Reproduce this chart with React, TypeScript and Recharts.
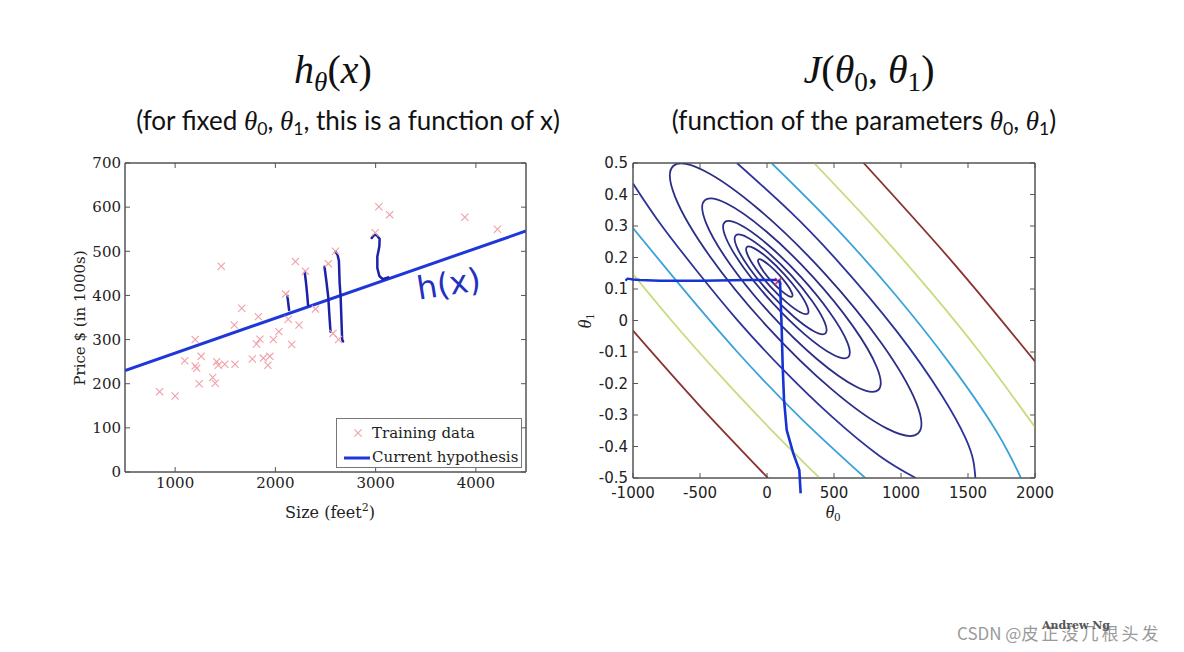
import React from "react";
import { ComposedChart, Scatter, Line, XAxis, YAxis, ReferenceArea } from "recharts";

type P = [number, number];

// ---------- Left chart: housing data ----------
const sizeTicks = [1000, 2000, 3000, 4000];
const priceTicks = [0, 100, 200, 300, 400, 500, 600, 700];

const trainingData: P[] = [
  [845, 182], [1000, 172], [1095, 252], [1200, 300], [1200, 240], [1215, 235], [1240, 200], [1260, 262],
  [1375, 214], [1400, 201], [1415, 250], [1430, 242], [1460, 466], [1495, 244], [1597, 244], [1590, 333],
  [1665, 371], [1770, 256], [1812, 290], [1830, 352], [1846, 301], [1880, 258], [1925, 242], [1945, 262],
  [1980, 300], [2035, 318], [2103, 403], [2128, 346], [2163, 289], [2236, 333], [2200, 477], [2300, 455],
  [2400, 369], [2528, 472], [2600, 500], [2575, 314], [2630, 300], [2995, 542], [3032, 601], [3140, 583],
  [3890, 577], [4215, 550],
];

const hypothesis: P[] = [[500, 230], [4500, 546]];

const stroke1: P[] = [[2120, 399], [2128, 383], [2137, 367]];
const stroke2: P[] = [[2293, 452], [2305, 430], [2316, 405], [2326, 378]];
const stroke3: P[] = [[2490, 465], [2510, 430], [2528, 395], [2540, 350], [2550, 318]];
const stroke4: P[] = [[2601, 499], [2620, 492], [2634, 478], [2641, 428], [2651, 397], [2658, 352], [2666, 300], [2675, 296]];
const stroke5: P[] = [[2961, 530], [2985, 537], [3010, 537], [3040, 528], [3037, 511], [3017, 488], [3017, 462], [3037, 444], [3070, 437], [3125, 441]];
const residualStrokes: P[][] = [stroke1, stroke2, stroke3, stroke4, stroke5];

// ---------- Right chart: cost contours ----------
const theta0Ticks = [-1000, -500, 0, 500, 1000, 1500, 2000];
const theta1Ticks = [0.5, 0.4, 0.3, 0.2, 0.1, 0, -0.1, -0.2, -0.3, -0.4, -0.5];

const ellipse1: P[] = [[193.5, 0.0736], [190.2, 0.0874], [152.5, 0.1138], [90.4, 0.146], [20.7, 0.1752], [-38, 0.1936], [-69.9, 0.1962], [-66.6, 0.1824], [-28.9, 0.156], [33.2, 0.1238], [102.9, 0.0946], [161.6, 0.0762]];
const ellipse2: P[] = [[314.8, 0.0169], [309.7, 0.0421], [242.1, 0.0902], [130.3, 0.1483], [4.1, 0.2008], [-102.5, 0.2337], [-161.2, 0.2381], [-156.1, 0.2129], [-88.5, 0.1648], [23.3, 0.1067], [149.5, 0.0542], [256.1, 0.0213]];
const ellipse3: P[] = [[451.9, -0.0481], [445.2, -0.0107], [346.4, 0.0603], [182, 0.146], [-4, 0.2233], [-161.6, 0.2715], [-248.7, 0.2777], [-242, 0.2403], [-143.2, 0.1693], [21.2, 0.0836], [207.2, 0.0063], [364.8, -0.0419]];
const ellipse4: P[] = [[627.5, -0.1262], [618.3, -0.0746], [482.4, 0.0231], [256, 0.141], [0, 0.2473], [-217.1, 0.3136], [-337.1, 0.322], [-327.9, 0.2704], [-192, 0.1727], [34.4, 0.0548], [290.4, -0.0515], [507.5, -0.1178]];
const ellipse5: P[] = [[860.8, -0.2347], [851.1, -0.1609], [662.3, -0.0225], [344.9, 0.1436], [-15.9, 0.2927], [-323.5, 0.3849], [-495.6, 0.3955], [-485.9, 0.3217], [-297.1, 0.1833], [20.3, 0.0172], [381.1, -0.1319], [688.7, -0.2241]];
const ellipse6: P[] = [[1169.7, -0.3782], [1154.4, -0.2749], [887.1, -0.0802], [439.3, 0.1537], [-68.9, 0.3642], [-501.4, 0.4947], [-742.3, 0.5104], [-727, 0.4071], [-459.7, 0.2124], [-11.9, -0.0215], [496.3, -0.232], [928.8, -0.3625]];

const level7a: P[] = [[-1000, 0.435], [-805.8, 0.313], [-536.7, 0.1644], [-216.3, -0.001], [133.3, -0.1617], [488.5, -0.307], [840, -0.43], [1110, -0.5]];
const level7b: P[] = [[-224.3, 0.5], [175.1, 0.3447], [529.1, 0.1878], [964.1, -0.0322], [1308.4, -0.2404], [1481.6, -0.3734], [1540, -0.446], [1555, -0.5]];
const level8a: P[] = [[-1000, 0.2931], [-675.9, 0.1257], [-219.3, -0.1008], [266.7, -0.316], [733.5, -0.5]];
const level8b: P[] = [[33.4, 0.5], [486, 0.3069], [956.3, 0.0824], [1375.6, -0.1432], [1715.9, -0.3545], [1895, -0.5]];
const level9a: P[] = [[-1000, 0.1474], [-717.7, 0.0025], [-377.4, -0.1618], [18.7, -0.3413], [392.9, -0.5]];
const level9b: P[] = [[351, 0.5], [804.7, 0.2941], [1227.2, 0.0884], [1619.3, -0.1181], [2000, -0.3384]];
const level10a: P[] = [[-1000, -0.0324], [-516, -0.2646], [7.1, -0.5]];
const level10b: P[] = [[721, 0.5], [1399.2, 0.1783], [2000, -0.1302]];

const minimum: P[] = [[83, 0.124]];
const descentH: P[] = [[-1058, 0.127], [-1040, 0.133], [-1000, 0.13], [-948, 0.1286], [-799, 0.126], [-500, 0.126], [-127, 0.1286], [72, 0.1286]];
const descentV: P[] = [[82, 0.128], [97, 0.123], [109, -0.02], [117, -0.147], [127, -0.252], [147, -0.348], [196, -0.422], [241, -0.475], [251, -0.549]];

// ---------- helpers / styles ----------
const toObj = (arr: P[]) => arr.map(([x, y]) => ({ x, y }));
const serif = "'DejaVu Serif', serif";
const sans = "'DejaVu Sans', sans-serif";
const math = "'Liberation Serif', 'DejaVu Serif', serif";

const NAVY = "#2b2d86";
const L7C = "#2e3399";
const LBLUE = "#3ba3da";
const YGREEN = "#c5dd7e";
const DRED = "#8a3232";

const contours: { pts: P[]; color: string; closed: boolean }[] = [
  { pts: ellipse1, color: NAVY, closed: true },
  { pts: ellipse2, color: NAVY, closed: true },
  { pts: ellipse3, color: NAVY, closed: true },
  { pts: ellipse4, color: NAVY, closed: true },
  { pts: ellipse5, color: NAVY, closed: true },
  { pts: ellipse6, color: NAVY, closed: true },
  { pts: level7a, color: L7C, closed: false },
  { pts: level7b, color: L7C, closed: false },
  { pts: level8a, color: LBLUE, closed: false },
  { pts: level8b, color: LBLUE, closed: false },
  { pts: level9a, color: YGREEN, closed: false },
  { pts: level9b, color: YGREEN, closed: false },
  { pts: level10a, color: DRED, closed: false },
  { pts: level10b, color: DRED, closed: false },
];

const PinkCross = (props: any) => {
  const { cx, cy } = props;
  if (cx == null || cy == null) return null;
  const r = 3.6;
  return (
    <path
      d={`M${cx - r},${cy - r}L${cx + r},${cy + r}M${cx - r},${cy + r}L${cx + r},${cy - r}`}
      stroke="#f0a0a8"
      strokeWidth={1.1}
      fill="none"
    />
  );
};

const RedCross = (props: any) => {
  const { cx, cy } = props;
  if (cx == null || cy == null) return null;
  const r = 3.2;
  return (
    <path
      d={`M${cx - r},${cy - r}L${cx + r},${cy + r}M${cx - r},${cy + r}L${cx + r},${cy - r}`}
      stroke="#e0405a"
      strokeWidth={1.8}
      fill="none"
    />
  );
};

const Sub = ({ children, size = "0.68em" }: any) => (
  <span style={{ fontSize: size, position: "relative", top: "0.28em" }}>{children}</span>
);

const axisStroke = "#555";

function LeftChart() {
  return (
    <ComposedChart width={560} height={362} margin={{ top: 12, right: 33, bottom: 0, left: 65 }}>
      <XAxis xAxisId="b" dataKey="x" type="number" domain={[500, 4500]} ticks={sizeTicks} allowDataOverflow
        height={40} tickSize={-5} tickMargin={10} stroke={axisStroke}
        tick={{ fill: "#222", fontSize: 15, fontFamily: serif }} />
      <XAxis xAxisId="t" orientation="top" dataKey="x" type="number" domain={[500, 4500]} ticks={sizeTicks}
        allowDataOverflow height={1} tickSize={-5} tickFormatter={() => ""} stroke={axisStroke} />
      <YAxis yAxisId="l" dataKey="y" type="number" domain={[0, 700]} ticks={priceTicks} allowDataOverflow
        width={60} tickSize={-5} tickMargin={9} stroke={axisStroke}
        tick={{ fill: "#222", fontSize: 15, fontFamily: serif }} />
      <YAxis yAxisId="r" orientation="right" type="number" domain={[0, 700]} ticks={priceTicks}
        allowDataOverflow width={1} tickSize={-5} tickFormatter={() => ""} stroke={axisStroke} />
      <ReferenceArea xAxisId="b" yAxisId="l" x1={500} x2={4500} y1={0} y2={700} fill="none" stroke={axisStroke}
        strokeWidth={1} ifOverflow="visible" />
      <Scatter xAxisId="b" yAxisId="l" data={toObj(trainingData)} dataKey="y" shape={<PinkCross />}
        isAnimationActive={false} legendType="none" />
      <Line xAxisId="b" yAxisId="l" data={toObj(hypothesis)} dataKey="y" type="linear" stroke="#1f37d9"
        strokeWidth={3} dot={false} activeDot={false} isAnimationActive={false} legendType="none" />
      {residualStrokes.map((s, i) => (
        <Line key={"s" + i} xAxisId="b" yAxisId="l" data={toObj(s)} dataKey="y" type="linear" stroke="#1c22a8"
          strokeWidth={2.5} strokeLinecap="round" strokeLinejoin="round" dot={false} activeDot={false}
          isAnimationActive={false} legendType="none" />
      ))}
    </ComposedChart>
  );
}

function RightChart() {
  return (
    <ComposedChart width={500} height={368} margin={{ top: 12, right: 24, bottom: 0, left: 13 }}>
      <XAxis xAxisId="b" dataKey="x" type="number" domain={[-1000, 2000]} ticks={theta0Ticks} allowDataOverflow
        height={40} tickSize={-5} tickMargin={14} stroke={axisStroke}
        tick={{ fill: "#222", fontSize: 15, fontFamily: sans }} />
      <XAxis xAxisId="t" orientation="top" dataKey="x" type="number" domain={[-1000, 2000]} ticks={theta0Ticks}
        allowDataOverflow height={1} tickSize={-5} tickFormatter={() => ""} stroke={axisStroke} />
      <YAxis yAxisId="l" dataKey="y" type="number" domain={[-0.5, 0.5]} ticks={theta1Ticks} allowDataOverflow
        width={60} tickSize={-5} tickMargin={10} stroke={axisStroke}
        tickFormatter={(v: number) => (Math.abs(v) < 1e-9 ? "0" : v.toFixed(1))}
        tick={{ fill: "#222", fontSize: 15, fontFamily: sans }} />
      <YAxis yAxisId="r" orientation="right" type="number" domain={[-0.5, 0.5]} ticks={theta1Ticks}
        allowDataOverflow width={1} tickSize={-5} tickFormatter={() => ""} stroke={axisStroke} />
      <ReferenceArea xAxisId="b" yAxisId="l" x1={-1000} x2={2000} y1={-0.5} y2={0.5} fill="none" stroke={axisStroke}
        strokeWidth={1} ifOverflow="visible" />
      {contours.map((c, i) => (
        <Line key={"c" + i} xAxisId="b" yAxisId="l" data={toObj(c.pts)} dataKey="y"
          type={c.closed ? "basisClosed" : "natural"} stroke={c.color} strokeWidth={1.8}
          dot={false} activeDot={false} isAnimationActive={false} legendType="none" />
      ))}
      <Scatter xAxisId="b" yAxisId="l" data={toObj(minimum)} dataKey="y" shape={<RedCross />}
        isAnimationActive={false} legendType="none" />
    </ComposedChart>
  );
}

// Overlay with the same pixel scale but a wider domain so the hand-drawn path can leave the box
function DescentOverlay() {
  return (
    <ComposedChart width={500} height={360} margin={{ top: 13, right: 25, bottom: 16.25, left: 65 }}>
      <XAxis xAxisId="b" dataKey="x" type="number" domain={[-1060, 2000]} allowDataOverflow hide />
      <YAxis yAxisId="l" dataKey="y" type="number" domain={[-0.55, 0.5]} allowDataOverflow hide />
      <Line xAxisId="b" yAxisId="l" data={toObj(descentH)} dataKey="y" type="linear" stroke="#1733d4"
        strokeWidth={2.4} strokeLinejoin="round" dot={false} activeDot={false} isAnimationActive={false} legendType="none" />
      <Line xAxisId="b" yAxisId="l" data={toObj(descentV)} dataKey="y" type="linear" stroke="#1733d4"
        strokeWidth={2.6} strokeLinejoin="round" dot={false} activeDot={false} isAnimationActive={false} legendType="none" />
    </ComposedChart>
  );
}

export default function App() {
  const abs = (extra: React.CSSProperties): React.CSSProperties => ({ position: "absolute", ...extra });
  const humanist = "Lato, 'Open Sans', sans-serif";
  const thetaStyle: React.CSSProperties = { fontFamily: math, fontStyle: "italic", fontSize: 27 };
  return (
    <div style={{ position: "absolute", left: 0, top: 0, width: 1184, height: 652, background: "#fff", overflow: "hidden" }}>
      {/* Titles */}
      <div style={abs({ left: 183, top: 45, width: 300, textAlign: "center", fontFamily: math, fontSize: 40, lineHeight: "50px", color: "#111" })}>
        <i>h</i><Sub><i>θ</i></Sub>(<i>x</i>)
      </div>
      <div style={abs({ left: 719, top: 45, width: 300, textAlign: "center", fontFamily: math, fontSize: 40, lineHeight: "50px", color: "#111" })}>
        <i>J</i>(<i>θ</i><Sub>0</Sub>, <i>θ</i><Sub>1</Sub>)
      </div>
      <div style={abs({ left: 98, top: 103, width: 500, textAlign: "center", fontFamily: humanist, fontSize: 26, lineHeight: "34px", color: "#111", whiteSpace: "nowrap" })}>
        (for fixed <span style={thetaStyle}>θ</span><Sub>0</Sub>, <span style={thetaStyle}>θ</span><Sub>1</Sub>, this is a function of x)
      </div>
      <div style={abs({ left: 614, top: 103, width: 500, textAlign: "center", fontFamily: humanist, fontSize: 26, lineHeight: "34px", color: "#111", whiteSpace: "nowrap" })}>
        (function of the parameters <span style={thetaStyle}>θ</span><Sub>0</Sub>, <span style={thetaStyle}>θ</span><Sub>1</Sub>)
      </div>

      {/* Left chart */}
      <div style={abs({ left: 0, top: 150 })}>
        <LeftChart />
      </div>
      <div style={abs({ left: 80, top: 318, transform: "translate(-50%, -50%) rotate(-90deg)", fontFamily: serif, fontSize: 15, color: "#222", whiteSpace: "nowrap" })}>
        Price $ (in 1000s)
      </div>
      <div style={abs({ left: 330, top: 512, transform: "translate(-50%, -50%)", fontFamily: serif, fontSize: 16, color: "#222", whiteSpace: "nowrap" })}>
        Size (feet<span style={{ fontSize: 11, position: "relative", top: "-0.6em" }}>2</span>)
      </div>
      <div style={abs({ left: 417, top: 269, fontFamily: sans, fontSize: 32, color: "#2430c0", transform: "rotate(-9deg)", transformOrigin: "left center", lineHeight: "40px" })}>
        h(x)
      </div>
      {/* Legend */}
      <div style={abs({ left: 336, top: 418, width: 186, height: 50, border: "1px solid #777", background: "#fff", boxSizing: "border-box", fontFamily: serif, fontSize: 15, color: "#222" })}>
        <svg width={30} height={48} style={{ position: "absolute", left: 4, top: 0 }}>
          <path d="M13.4,10.4L20.6,17.6M13.4,17.6L20.6,10.4" stroke="#f0a0a8" strokeWidth={1.1} fill="none" />
          <line x1={3} y1={39} x2={29} y2={39} stroke="#1f37d9" strokeWidth={3} />
        </svg>
        <div style={{ position: "absolute", left: 35, top: 4, lineHeight: "20px", whiteSpace: "nowrap" }}>Training data</div>
        <div style={{ position: "absolute", left: 35, top: 28, lineHeight: "20px", whiteSpace: "nowrap" }}>Current hypothesis</div>
      </div>

      {/* Right chart */}
      <div style={abs({ left: 560, top: 150 })}>
        <RightChart />
      </div>
      <div style={abs({ left: 560, top: 150 })}>
        <DescentOverlay />
      </div>
      <div style={abs({ left: 585, top: 321, transform: "translate(-50%, -50%) rotate(-90deg)", fontFamily: math, fontSize: 18, color: "#222", whiteSpace: "nowrap" })}>
        <i>θ</i><Sub>1</Sub>
      </div>
      <div style={abs({ left: 833, top: 512, transform: "translate(-50%, -50%)", fontFamily: math, fontSize: 18, color: "#222", whiteSpace: "nowrap" })}>
        <i>θ</i><Sub>0</Sub>
      </div>

      {/* Watermarks */}
      <div style={abs({ left: 957, top: 621, fontFamily: "'Noto Sans CJK SC', 'Noto Sans', sans-serif", fontSize: 17, color: "#9a9a9a", whiteSpace: "nowrap", lineHeight: "24px" })}>
        CSDN @<span style={{ letterSpacing: 3 }}>皮正没几根头发</span>
      </div>
      <div style={abs({ left: 1042, top: 619, fontFamily: serif, fontWeight: 700, fontSize: 11, color: "#555", whiteSpace: "nowrap", lineHeight: "14px" })}>
        Andrew Ng
      </div>
    </div>
  );
}
